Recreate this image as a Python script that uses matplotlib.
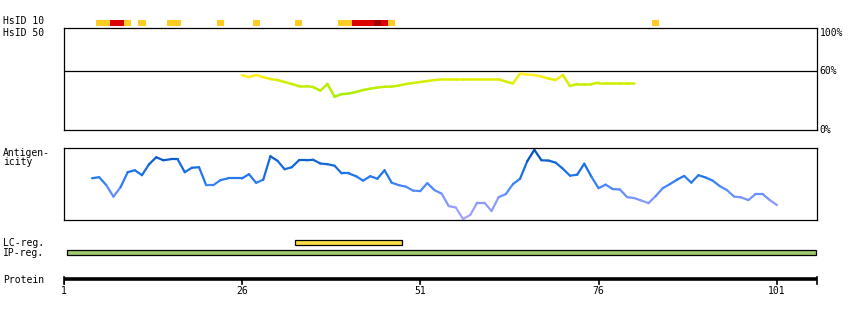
import matplotlib
matplotlib.use("Agg")
import matplotlib.pyplot as plt
import numpy as np
from matplotlib.collections import LineCollection
from matplotlib.colors import LinearSegmentedColormap, Normalize
from matplotlib.patches import Rectangle
import matplotlib.transforms as mtrans

# ---------------- data ----------------
protein_length_end = 106.58
tick_positions = [1, 26, 51, 76, 101]
tick_labels = ["1", "26", "51", "76", "101"]

hsid_res = [6, 7, 8, 9, 10, 12, 16, 17, 23, 28, 34, 40, 41, 42, 43, 44, 45, 46, 47, 84]
hsid_level = ["o", "o", "r", "r", "o", "o", "o", "o", "o", "o", "o",
              "o", "o", "r", "r", "r", "d", "r", "o", "o"]

ident_start = 26
ident_values = [55.7, 53.6, 55.7, 53.6, 51.6, 50.6, 48.6, 46.6, 44.5, 44.5,
                43.5, 39.8, 46.6, 33.7, 36.4, 36.9, 38.5, 40.5, 41.8, 43.0,
                43.8, 44.0, 45.0, 46.6, 47.6, 48.6, 49.6, 50.6,
                51.3, 51.3, 51.3, 51.3, 51.3, 51.3, 51.3, 51.3, 51.3,
                49.1, 47.1, 57.2, 56.2, 55.7, 54.1, 52.1, 50.6, 55.7, 44.5,
                46.6, 46.6, 46.6, 47.9, 47.9, 47.9, 47.9, 47.9, 47.9]

antig_start = 5
antig_values = [0.583, 0.597, 0.486, 0.326, 0.458, 0.667, 0.694, 0.625, 0.778, 0.875,
                0.833, 0.847, 0.847, 0.667, 0.729, 0.736, 0.486, 0.486, 0.556, 0.579,
                0.579, 0.579, 0.639, 0.518, 0.563, 0.889, 0.826, 0.708, 0.736, 0.833,
                0.833, 0.840, 0.788, 0.778, 0.757, 0.649, 0.649, 0.611, 0.549, 0.611,
                0.576, 0.694, 0.521, 0.486, 0.465, 0.410, 0.403, 0.514, 0.417, 0.368,
                0.194, 0.174, 0.014, 0.069, 0.243, 0.243, 0.125, 0.319, 0.361, 0.500,
                0.576, 0.819, 0.979, 0.833, 0.829, 0.799, 0.715, 0.618, 0.632, 0.785,
                0.604, 0.444, 0.493, 0.431, 0.426, 0.319, 0.306, 0.271, 0.236, 0.333,
                0.444, 0.500, 0.563, 0.615, 0.521, 0.625, 0.593, 0.549, 0.472, 0.417,
                0.326, 0.315, 0.278, 0.361, 0.361, 0.278, 0.208]

lc_region = (34, 48)
ip_region = (2, 106)

# ---------------- layout helpers ----------------
W, H = 850, 320
fig = plt.figure(figsize=(8.5, 3.2), dpi=100)
fig.patch.set_facecolor("white")
FONT = dict(family="DejaVu Sans Mono", fontsize=7, color="black")

L, R = 63.5, 816.7
XMIN, XMAX = 1, protein_length_end


def axes_box(top, bottom):
    return [L / W, 1 - bottom / H, (R - L) / W, (bottom - top) / H]


def ftext(x, y, s, **kw):
    d = dict(FONT)
    d.update(kw)
    fig.text(x / W, 1 - y / H, s, va="center", ha=d.pop("ha", "left"), **d)


# track axes (pixel-row y units, residue x units)
axt = fig.add_axes([L / W, 0, (R - L) / W, 1])
axt.set_xlim(XMIN, XMAX)
axt.set_ylim(H, 0)
axt.axis("off")

# HsID 10 cells
level_colors = {"o": "#FFCC22", "r": "#DD0000", "d": "#A00000"}
axt.bar(hsid_res, 6, width=1.0, bottom=19.5,
        color=[level_colors[l] for l in hsid_level], linewidth=0)

# LC region and IP region
axt.add_patch(Rectangle((lc_region[0] - 0.5, 240), lc_region[1] - lc_region[0] + 1, 4.7,
                        facecolor="#FFDD44", edgecolor="black", linewidth=0.9))
axt.add_patch(Rectangle((ip_region[0] - 0.5, 250), XMAX - ip_region[0] + 0.5 - 0.05, 4.7,
                        facecolor="#A0C870", edgecolor="black", linewidth=0.9, clip_on=False))

# Protein axis
axt.plot([XMIN, XMAX], [279, 279], color="black", lw=2.6, solid_capstyle="butt")
for t, lab in zip(tick_positions, tick_labels):
    axt.plot([t, t], [279, 283.5], color="black", lw=1.2)
    axt.text(t, 291.5, lab, ha="center", va="center", **FONT)
for t in (XMIN, XMAX):
    axt.plot([t, t], [276.5, 283.5], color="black", lw=1.2, clip_on=False)

# identity plot
axi = fig.add_axes(axes_box(28.3, 130))
axi.set_xlim(XMIN, XMAX)
axi.set_ylim(0, 103)
axi.set_xticks([])
axi.set_yticks([])
for s in axi.spines.values():
    s.set_linewidth(0.9)
axi.axhline(60, color="black", lw=0.9)
ix = np.arange(ident_start, ident_start + len(ident_values))
iy = np.array(ident_values)
icmap = LinearSegmentedColormap.from_list(
    "ident", [(0.0, "#99EE00"), (0.45, "#BBEE00"), (0.75, "#DDEE00"), (0.85, "#FFEE11"), (1.0, "#FFEE33")])
inorm = Normalize(30, 58)
pts = np.column_stack([ix, iy]).reshape(-1, 1, 2)
segs = np.concatenate([pts[:-1], pts[1:]], axis=1)
lc = LineCollection(segs, colors=icmap(inorm((iy[:-1] + iy[1:]) / 2)), linewidths=1.8,
                    capstyle="round")
axi.add_collection(lc)
btr = mtrans.blended_transform_factory(axi.transAxes, axi.transData)
for val, lab in [(98, "100%"), (60, "60%"), (0, "0%")]:
    axi.text(1.004, val, lab, transform=btr, ha="left", va="center", **FONT)

# antigenicity plot
axa = fig.add_axes(axes_box(148.3, 220))
axa.set_xlim(XMIN, XMAX)
axa.set_ylim(0, 1)
axa.set_xticks([])
axa.set_yticks([])
for s in axa.spines.values():
    s.set_linewidth(0.9)
ax_ = np.arange(antig_start, antig_start + len(antig_values))
ay = np.array(antig_values)
acmap = LinearSegmentedColormap.from_list(
    "antig", [(0.0, "#B0A8FF"), (0.25, "#8899FF"), (0.45, "#4C88FF"), (0.6, "#2277EE"),
              (0.8, "#1166DD"), (1.0, "#004499")])
pts = np.column_stack([ax_, ay]).reshape(-1, 1, 2)
segs = np.concatenate([pts[:-1], pts[1:]], axis=1)
lca = LineCollection(segs, colors=acmap((ay[:-1] + ay[1:]) / 2), linewidths=1.6,
                     capstyle="round")
axa.add_collection(lca)

# left labels
ftext(3, 21.5, "HsID 10")
ftext(3, 32.5, "HsID 50")
ftext(3, 153, "Antigen-")
ftext(3, 162, "icity")
ftext(3, 242.5, "LC-reg.")
ftext(3, 252.5, "IP-reg.")
ftext(3, 280, "Protein")

fig.savefig("out.png", dpi=100, facecolor="white")
